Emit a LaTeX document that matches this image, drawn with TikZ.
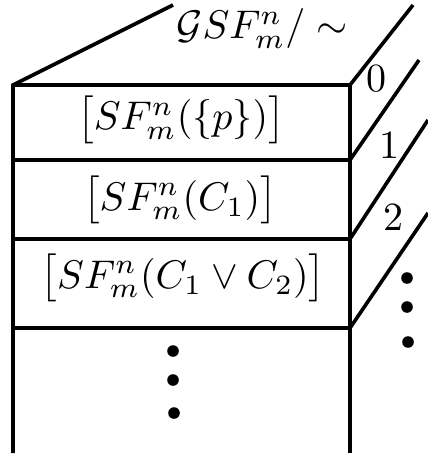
\documentclass[tikz,border=0pt]{standalone}
\usepackage{amsmath,amssymb}
\usepackage{tikz}
\usetikzlibrary{positioning,calc}

\begin{document}
\begin{tikzpicture}[
	x=0.25pt,
	y=-0.25pt,
	line join=miter,
	wall/.style={line width=0.9pt},
	dot/.style={circle,fill,inner sep=0pt,minimum size=2.9pt},
	lbl/.style={inner sep=0pt,anchor=base}
	]
	\useasboundingbox (0,0) rectangle (427,459);
	
	% Walls of the box
	\def\xl{13}
	\def\xr{350}
	\def\yb{453}
	
	\coordinate (tl) at (\xl,85);
	\coordinate (tr) at (\xr,85);
	\coordinate (back) at (173,5);
	\coordinate (bl) at (\xl,\yb);
	\coordinate (br) at (\xr,\yb);
	
	%------------------------------
	% Top face and the two vertical walls
	%------------------------------
	\draw[wall] (back) -- (tl) -- (bl);
	\draw[wall] (tr) -- (br);
	
	%------------------------------
	% Shelves: horizontal line and its slanted side edge
	%------------------------------
	\foreach \y/\ex/\ey [count=\i from 0] in {85/413/5, 160/419/60, 239/428/120, 328/428/213}{
		\coordinate (s\i) at (\xr,\y);
		\draw[wall] (\xl,\y) -- (s\i) -- (\ex,\ey);
	}
	
	% Title on the top face
	\node[lbl] (title) at (262,39) {$\mathcal{G}SF^n_m/\sim$};
	
	% Classes on the shelves
	\node[lbl] (r0) at (181,130) {$\bigl[SF^n_m(\{p\})\bigr]$};
	\node[lbl] (r1) at (180,210) {$\bigl[SF^n_m(C_1)\bigr]$};
	\node[lbl] (r2) at (183,288) {$\bigl[SF^n_m(C_1\vee C_2)\bigr]$};
	
	% Levels on the side
	\node[lbl] (l0) at (376,92) {$0$};
	\node[lbl] (l1) at (389,158) {$1$};
	\node[lbl] (l2) at (393,230) {$2$};
	
	% Dots: more shelves
	\foreach \x/\y [count=\i] in {407/278, 407/307, 408/342}{
		\node[dot] (sd\i) at (\x,\y) {};
	}
	\foreach \x/\y [count=\i] in {173/351, 173/380, 174/413}{
		\node[dot] (bd\i) at (\x,\y) {};
	}
\end{tikzpicture}
\end{document}
